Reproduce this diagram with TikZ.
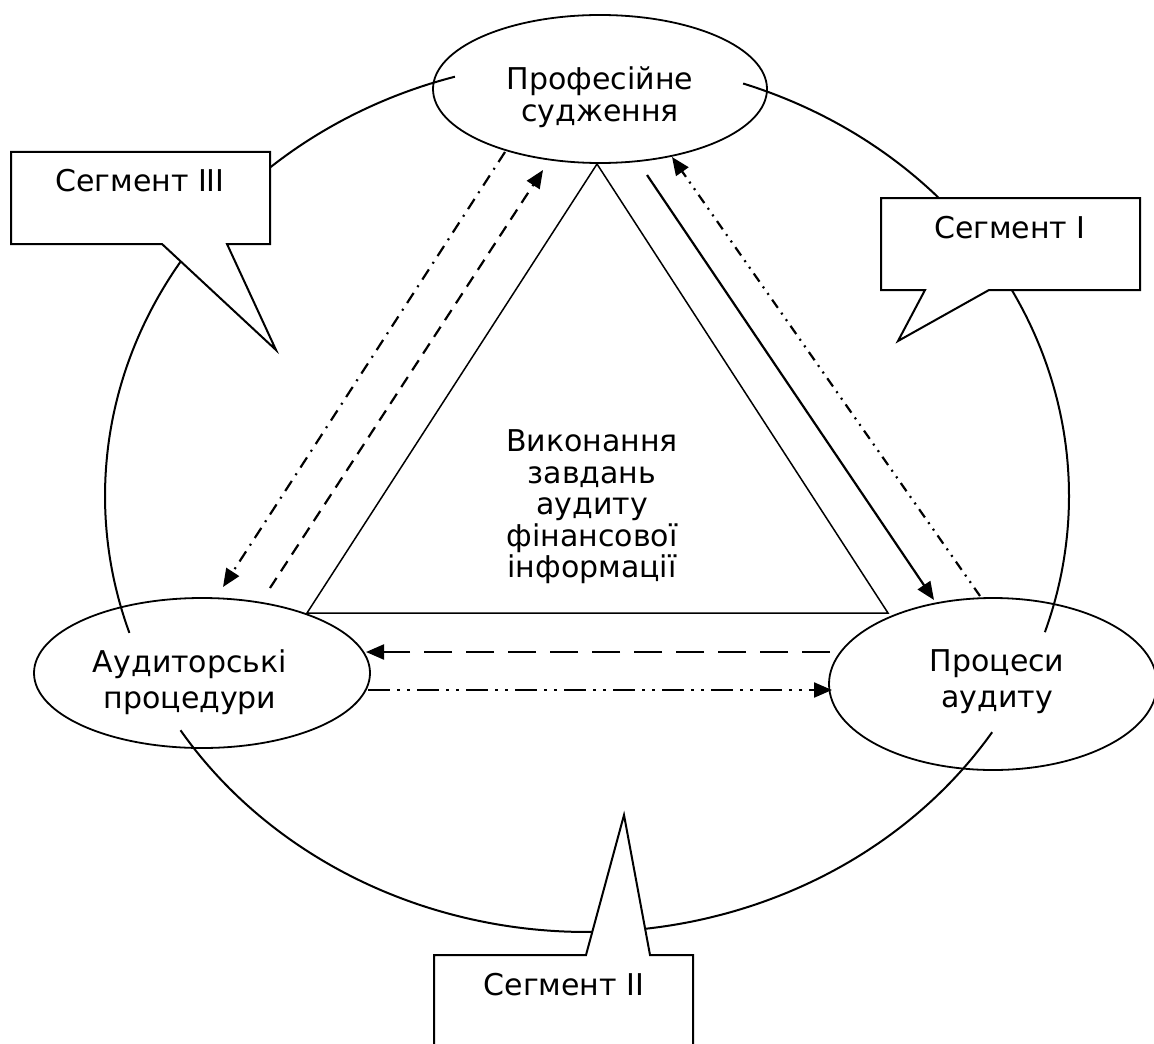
\documentclass[tikz,border=0pt]{standalone}
\usepackage{fontspec}
\setmainfont{DejaVu Sans}
\usetikzlibrary{arrows.meta,shapes.geometric}
\begin{document}
\begin{tikzpicture}[x=0.5pt,y=-0.5pt,
  ring/.style={line width=1pt},
  tri/.style={line width=0.75pt},
  bubble/.style={draw, line width=1pt, fill=white, line join=miter},
  oval/.style={draw, ellipse, line width=0.9pt, inner sep=0pt},
  lbl/.style={font=\fontsize{15}{15.75}\selectfont, align=center, inner sep=0pt},
  lblwide/.style={lbl, font=\fontsize{15}{18}\selectfont},
  flow/.style={line width=1.1pt, -{Triangle[length=9pt,width=7.5pt]}},
  dashdot/.style={dash pattern=on 6pt off 3.5pt on 1pt off 3.5pt},
  dashdotdot/.style={dash pattern=on 5pt off 3pt on 1pt off 3pt on 1pt off 3pt},
  shortdash/.style={dash pattern=on 6pt off 4pt},
  longdash/.style={dash pattern=on 14pt off 7pt},
  longdashdotdot/.style={dash pattern=on 11pt off 3.5pt on 1.5pt off 3.5pt on 1.5pt off 3.5pt}
]
\useasboundingbox (0,0) rectangle (1154,1043);

% outer ring, drawn as three arcs that break inside the ovals
\draw[ring] plot[domain=161.7:254.1, samples=90, smooth] ({587+482*cos(\x)}, {496+436*sin(\x)});
\draw[ring] plot[domain=-71.1:18.2, samples=90, smooth] ({587+482*cos(\x)}, {496+436*sin(\x)});
\draw[ring] plot[domain=32.8:147.5, samples=110, smooth] ({587+482*cos(\x)}, {496+436*sin(\x)});

% central triangle
\coordinate (apex) at (597,164);
\coordinate (bl) at (307,613);
\coordinate (br) at (888,613);
\draw[tri] (apex) -- (bl) -- (br) -- cycle;

% speech bubbles
\draw[bubble] (11,152) -- (270,152) -- (270,244) -- (227,244) -- (276,350) -- (162,244) -- (11,244) -- cycle;
\draw[bubble] (881,198) -- (1140,198) -- (1140,290) -- (989,290) -- (898,341) -- (925,290) -- (881,290) -- cycle;
\draw[bubble] (434,955) -- (586,955) -- (624,815) -- (650,955) -- (693,955) -- (693,1060) -- (434,1060) -- cycle;
\node[lbl] (s3) at (140,181) {Сегмент III};
\node[lbl] (s1) at (1010,227.5) {Сегмент I};
\node[lbl] (s2) at (564,984.5) {Сегмент II};

% ovals
\node[oval, minimum width=167pt, minimum height=74pt] (judg) at (600,89) {};
\node[oval, minimum width=168pt, minimum height=75pt] (proc) at (202,673) {};
\node[oval, minimum width=164pt, minimum height=86pt] (audit) at (993,684) {};
\node[lbl] (judgt) at (600,97) {Професійне\\судження};
\node[lblwide] (proct) at (190,682) {Аудиторські\\процедури};
\node[lblwide] (auditt) at (997,682) {Процеси\\аудиту};
\node[lbl] (task) at (592,507) {Виконання\\завдань\\аудиту\\фінансової\\інформації};

% flows between the ovals
\coordinate (f1s) at (505,152);  \coordinate (f1e) at (223,587);
\coordinate (f2s) at (270,588);  \coordinate (f2e) at (543,170);
\coordinate (f3s) at (647,175);  \coordinate (f3e) at (934,600);
\coordinate (f4s) at (980,596);  \coordinate (f4e) at (672,157);
\coordinate (f5s) at (830,652);  \coordinate (f5e) at (366,652);
\coordinate (f6s) at (368,690);  \coordinate (f6e) at (832,690);
\draw[flow, dashdot] (f1s) -- (f1e);
\draw[flow, shortdash] (f2s) -- (f2e);
\draw[flow] (f3s) -- (f3e);
\draw[flow, dashdotdot] (f4s) -- (f4e);
\draw[flow, longdash] (f5s) -- (f5e);
\draw[flow, longdashdotdot] (f6s) -- (f6e);
\end{tikzpicture}
\end{document}
